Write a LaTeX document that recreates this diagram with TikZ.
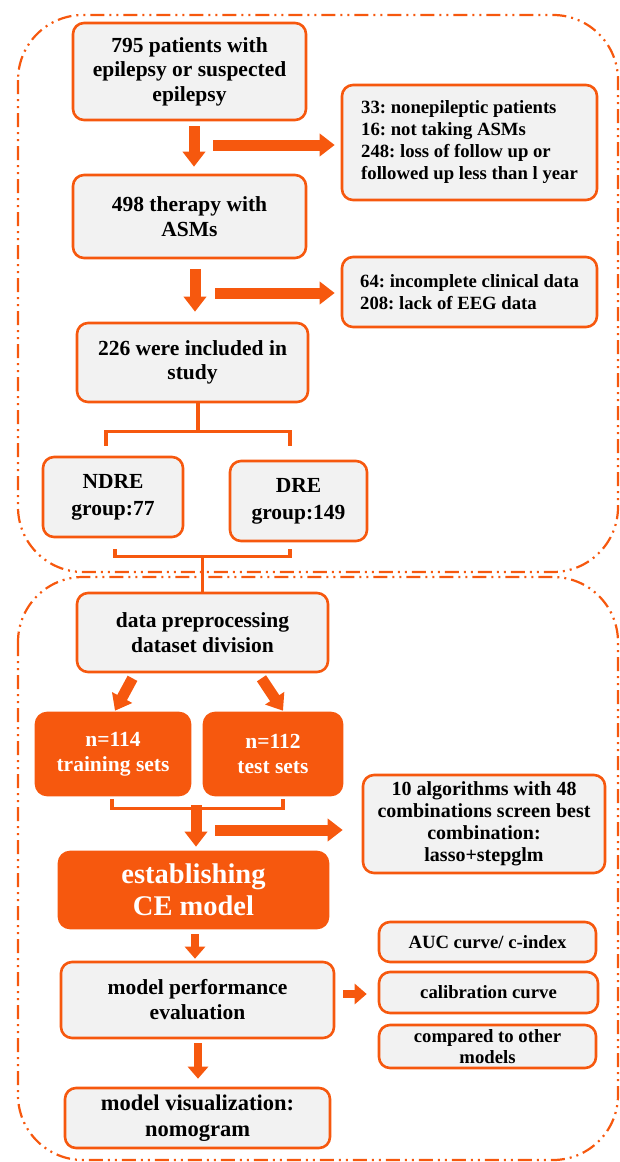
\documentclass[tikz,border=0pt]{standalone}
\usepackage{fontspec}
\setmainfont{Liberation Serif}
\usetikzlibrary{arrows.meta,calc}
\definecolor{flowor}{RGB}{246,88,14}
\definecolor{boxgray}{RGB}{242,242,242}
\newcommand\mainsize{\fontsize{21.5}{24.5}\selectfont}
\newcommand\smallsize{\fontsize{18.7}{22}\selectfont}
\frenchspacing
\begin{document}
\begin{tikzpicture}[x=1pt,y=-1pt,
   graybox/.style={draw=flowor,line width=2.6pt,fill=boxgray,rounded corners=11pt,
     align=center,inner sep=0pt,font=\bfseries\mainsize},
   exbox/.style={graybox,align=left,font=\bfseries\smallsize},
   orbox/.style={draw=flowor,line width=2.6pt,fill=flowor,text=white,rounded corners=11pt,
     align=center,inner sep=0pt,font=\bfseries\mainsize},
   frame/.style={draw=flowor,line width=2.2pt,rounded corners=65pt,
     dash pattern=on 14pt off 5pt on 2pt off 5pt on 2pt off 5pt},
   fat/.style={draw=flowor,line width=11pt,-{Triangle[length=15pt,width=22pt]}},
   thinfat/.style={draw=flowor,line width=8.5pt,-{Triangle[length=12pt,width=20pt]}},
   bracket/.style={draw=flowor,line width=3.5pt}]
   \useasboundingbox (0,0) rectangle (619,1162);
   \draw[frame] (18,15) rectangle (618,572);
   \draw[frame] (18,577) rectangle (618,1160);

   \node[graybox,minimum width=233pt,minimum height=97pt] (pat) at (189.5,71.5)
     {795 patients with\\epilepsy or suspected\\epilepsy};
   \node[exbox,minimum width=255pt,minimum height=115pt] (excl1) at (469.5,142.5)
     {33: nonepileptic patients\\16: not taking ASMs\\248: loss of follow up or\\followed up less than l year};
   \node[graybox,minimum width=233pt,minimum height=83pt] (asm) at (189.5,216.5)
     {498 therapy with\\ASMs};
   \node[exbox,minimum width=255pt,minimum height=70pt] (excl2) at (469.5,292)
     {64: incomplete clinical data\\208: lack of EEG data};
   \node[graybox,minimum width=231pt,minimum height=79pt] (incl) at (192.5,362.5)
     {226 were included in\\study};
   \node[graybox,font=\bfseries\fontsize{21.5}{27}\selectfont,minimum width=140pt,minimum height=80pt] (ndre) at (113,497)
     {NDRE\\group:77};
   \node[graybox,font=\bfseries\fontsize{21.5}{27}\selectfont,minimum width=137pt,minimum height=80pt] (dre) at (298.5,501)
     {DRE\\group:149};

   \node[graybox,minimum width=251pt,minimum height=79pt] (prep) at (202.5,632.5)
     {data preprocessing\\dataset division};
   \node[orbox,font=\bfseries\fontsize{21.5}{25}\selectfont,minimum width=154pt,minimum height=82pt] (train) at (113,754)
     {n=114\\training sets};
   \node[orbox,font=\bfseries\fontsize{21.5}{25}\selectfont,minimum width=138pt,minimum height=82pt] (test) at (273,754)
     {n=112\\test sets};
   \node[graybox,font=\bfseries\fontsize{20}{22}\selectfont,minimum width=242pt,minimum height=98pt] (algo) at (484,824)
     {10 algorithms with 48\\combinations screen best\\combination:\\lasso+stepglm};
   \node[orbox,font=\bfseries\fontsize{28.5}{32}\selectfont,minimum width=269pt,minimum height=76pt] (ce) at (193.5,890)
     {establishing\\CE model};
   \node[graybox,font=\bfseries\fontsize{21.5}{25}\selectfont,minimum width=273pt,minimum height=76pt] (perf) at (197.5,1000)
     {model performance\\evaluation};
   \node[graybox,font=\bfseries\smallsize,minimum width=217pt,minimum height=40pt] (auc) at (487.5,942)
     {AUC curve/ c-index};
   \node[graybox,font=\bfseries\smallsize,minimum width=219pt,minimum height=41pt] (calib) at (488.5,992.5)
     {calibration curve};
   \node[graybox,font=\bfseries\fontsize{18.7}{21}\selectfont,minimum width=217pt,minimum height=43pt] (comp) at (487.5,1046.5)
     {compared to other\\models};
   \node[graybox,font=\bfseries\fontsize{22.5}{26}\selectfont,minimum width=265pt,minimum height=60pt] (vis) at (197.5,1118)
     {model visualization:\\nomogram};

   \draw[fat] ($(pat.south)+(4.5,5)$) -- ($(asm.north)+(4.5,-7)$);
   \coordinate (r1) at (213,145);
   \draw[fat] (r1) -- ($(r1 -| excl1.west)+(-6,0)$);
   \draw[fat] ($(asm.south)+(5.5,10)$) -- ($(incl.north)+(2.5,-10)$);
   \coordinate (r2) at (215,293);
   \draw[fat] (r2) -- ($(r2 -| excl2.west)+(-6,0)$);

   \coordinate (sp1) at (198,433);
   \draw[bracket] (incl.south -| sp1) -- (sp1);
   \draw[bracket] ($(ndre.north)+(-7,-10)$) -- ++(0,-14) -| ($(dre.north)+(-8.5,-14)$);
   \draw[bracket] ($(ndre.south)+(2,11)$) -- ++(0,7) -| ($(dre.south)+(-8.5,7)$);
   \draw[bracket] (prep.north) -- ++(0,-37);

   \draw[fat] ($(prep.south)+(-70,5)$) -- ($(train.north)+(2,-1)$);
   \draw[fat] ($(prep.south)+(59,5)$) -- ($(test.north)+(10,-1)$);
   \draw[bracket] ($(train.south)+(-1,3)$) -- ++(0,9) -| ($(test.south)+(10,3)$);
   \coordinate (sp3) at (196,805);
   \draw[fat] (sp3) -- ($(ce.north)+(2.5,-4)$);
   \coordinate (r3) at (215,830);
   \draw[fat] (r3) -- ($(r3 -| algo.west)+(-19,0)$);

   \draw[thinfat] ($(ce.south)+(1.5,5)$) -- ($(perf.north)+(-2.5,-2)$);
   \draw[thinfat] ($(perf.south)+(0.5,4)$) -- ($(vis.north)+(0.5,-8)$);
   \draw[thinfat] ($(perf.east)+(8,-6)$) -- ($(perf.east -| calib.west)+(-11,-6)$);
\end{tikzpicture}
\end{document}
